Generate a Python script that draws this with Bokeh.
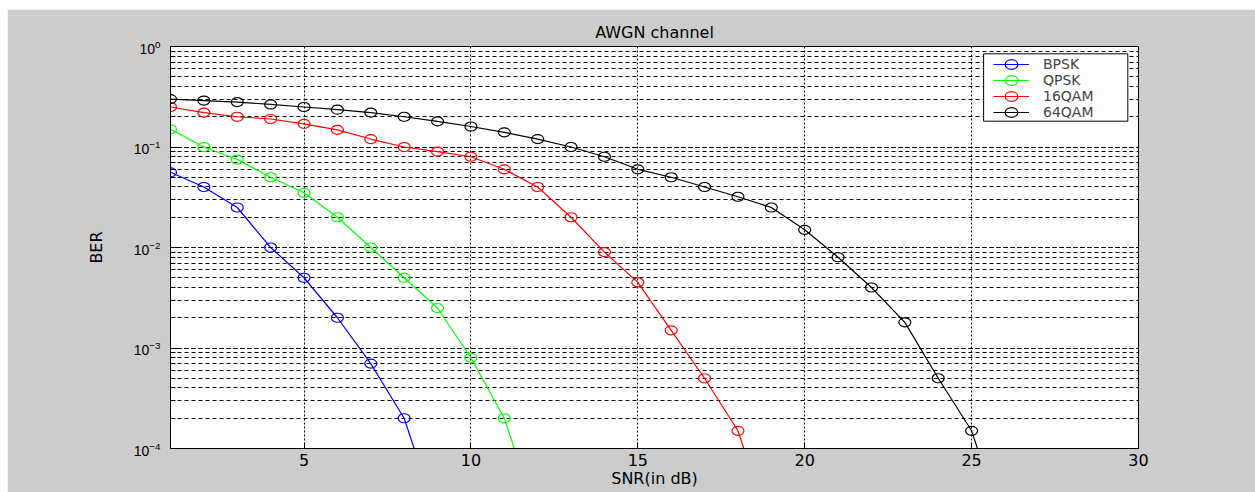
from bokeh.plotting import figure
from bokeh.models import FixedTicker, Legend, LegendItem, BoxAnnotation
from bokeh.embed import file_html
from bokeh.resources import INLINE

# ---- data ----
snr_bpsk = [1, 2, 3, 4, 5, 6, 7, 8, 9]
ber_bpsk = [0.056, 0.040, 0.025, 0.010, 0.005, 0.002, 7e-4, 2e-4, 2e-5]

snr_qpsk = [1, 2, 3, 4, 5, 6, 7, 8, 9, 10, 11, 12]
ber_qpsk = [0.15, 0.10, 0.075, 0.05, 0.035, 0.02, 0.01, 0.005, 0.0025, 8e-4, 2e-4, 2e-5]

snr_16qam = list(range(1, 20))
ber_16qam = [0.25, 0.22, 0.20, 0.19, 0.17, 0.148, 0.12, 0.10, 0.09, 0.08,
             0.06, 0.04, 0.02, 0.009, 0.0045, 0.0015, 5e-4, 1.5e-4, 1.5e-5]

snr_64qam = list(range(1, 27))
ber_64qam = [0.30, 0.29, 0.28, 0.265, 0.25, 0.235, 0.22, 0.20, 0.18, 0.16,
             0.14, 0.12, 0.10, 0.08, 0.06, 0.05, 0.04, 0.032, 0.025, 0.015,
             0.008, 0.004, 0.0018, 5e-4, 1.5e-4, 1.5e-5]

series_names = ["BPSK", "QPSK", "16QAM", "64QAM"]
series_colors = ["#0000FF", "#00FF00", "#FF0000", "#000000"]
x_ticks = [5, 10, 15, 20, 25, 30]

p = figure(
    frame_width=968, frame_height=402,
    x_range=(1, 30), y_range=(1e-4, 1), y_axis_type="log",
    output_backend="svg", toolbar_location=None,
    min_border_left=163, min_border_right=117,
    min_border_top=37, min_border_bottom=44,
    title="AWGN channel",
)
p.margin = (9, 0, 0, 7)
p.background_fill_color = "white"
p.border_fill_color = "#CCCCCC"
p.outline_line_color = "black"
p.outline_line_width = 1

p.title.align = "center"
p.title.text_font = "DejaVu Sans"
p.title.text_font_size = "16px"
p.title.text_font_style = "normal"
p.title.text_color = "black"

# axes
p.xaxis.ticker = FixedTicker(ticks=x_ticks)
p.xaxis.axis_label = "SNR(in dB)"
p.yaxis.axis_label = "BER"
for ax in (p.xaxis[0], p.yaxis[0]):
    ax.axis_line_color = "black"
    ax.major_tick_line_color = "black"
    ax.minor_tick_line_color = "black"
    ax.major_tick_out = 0
    ax.minor_tick_out = 0
    ax.axis_label_text_font = "DejaVu Sans"
    ax.axis_label_text_font_size = "16px"
    ax.axis_label_text_font_style = "normal"
    ax.axis_label_text_color = "black"
    ax.major_label_text_color = "black"
p.xaxis.major_tick_in = 6
p.yaxis.major_tick_in = 10
p.yaxis.minor_tick_in = 5
p.xaxis.major_label_text_font = "DejaVu Sans"
p.xaxis.major_label_text_font_size = "16px"
p.xaxis.major_label_standoff = 5
p.xaxis.axis_label_standoff = 0
p.yaxis.major_label_text_font = "Liberation Sans"
p.yaxis.major_label_text_font_size = "14px"
p.yaxis.major_label_standoff = 10
p.yaxis.axis_label_standoff = 25

# grids
p.xgrid.grid_line_color = "black"
p.xgrid.grid_line_dash = "2 2"
p.xgrid.grid_line_width = 1
p.ygrid.grid_line_color = "black"
p.ygrid.grid_line_dash = "4 3"
p.ygrid.minor_grid_line_color = "black"
p.ygrid.minor_grid_line_dash = "4 3"

# data
xs = [snr_bpsk, snr_qpsk, snr_16qam, snr_64qam]
ys = [ber_bpsk, ber_qpsk, ber_16qam, ber_64qam]
items = []
for name, color, x, y in zip(series_names, series_colors, xs, ys):
    ln = p.line(x, y, line_color=color, line_width=1.2)
    mk = p.ellipse(x, y, width=12, height=9, width_units="screen", height_units="screen",
                   fill_alpha=0, line_color=color, line_width=1.2)
    items.append(LegendItem(label=name, renderers=[ln, mk]))

# legend frame
box = BoxAnnotation(left=25.36, right=29.68, top=0.846, bottom=0.1806,
                    fill_color="white", fill_alpha=1, line_color="black", line_width=1,
                    line_alpha=1)
p.add_layout(box)

legend = Legend(items=items, location=(823, 328), margin=0, padding=0,
                spacing=0, label_height=16, glyph_height=16, glyph_width=36,
                label_standoff=14, label_text_font="DejaVu Sans",
                label_text_font_size="14px", border_line_alpha=0,
                background_fill_alpha=0)
p.add_layout(legend, "center")

open("out.html", "w").write(file_html(p, INLINE))
